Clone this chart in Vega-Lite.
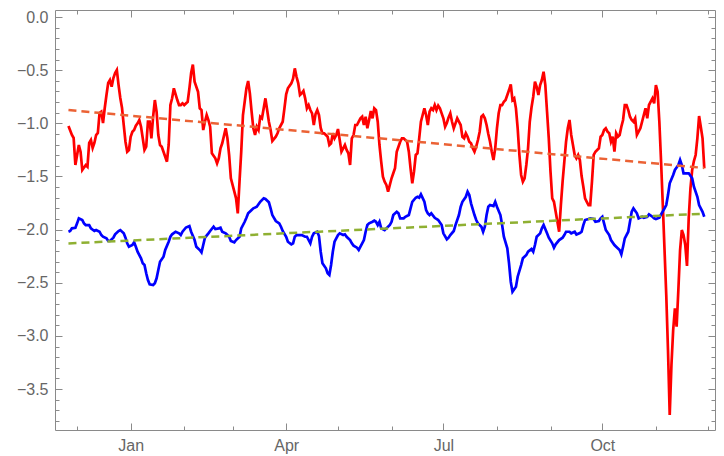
{
  "$schema": "https://vega.github.io/schema/vega-lite/v6.json",
  "width": 660,
  "height": 420,
  "autosize": {"type": "none"},
  "padding": {"left": 55, "top": 10, "right": 9, "bottom": 26},
  "background": "white",
  "config": {
    "view": {"stroke": "#8a8a8a", "strokeWidth": 1},
    "axis": {"grid": false, "domain": false, "title": null, "tickColor": "#8a8a8a", "tickWidth": 1, "labelFont": "Liberation Sans", "labelFontSize": 16, "labelColor": "#666666"}
  },
  "datasets": {
    "red": [
      {"date":"2018-11-26","value":-1.025},{"date":"2018-11-28","value":-1.110},{"date":"2018-11-29","value":-1.138},{"date":"2018-11-30","value":-1.392},
      {"date":"2018-12-02","value":-1.204},{"date":"2018-12-03","value":-1.267},{"date":"2018-12-04","value":-1.439},{"date":"2018-12-06","value":-1.392},
      {"date":"2018-12-07","value":-1.408},{"date":"2018-12-08","value":-1.185},{"date":"2018-12-09","value":-1.157},{"date":"2018-12-10","value":-1.232},
      {"date":"2018-12-11","value":-1.185},{"date":"2018-12-12","value":-1.110},{"date":"2018-12-13","value":-1.091},{"date":"2018-12-14","value":-0.903},
      {"date":"2018-12-15","value":-0.891},{"date":"2018-12-16","value":-0.997},{"date":"2018-12-17","value":-0.856},{"date":"2018-12-18","value":-0.734},
      {"date":"2018-12-19","value":-0.621},{"date":"2018-12-20","value":-0.593},{"date":"2018-12-21","value":-0.656},{"date":"2018-12-22","value":-0.574},
      {"date":"2018-12-23","value":-0.527},{"date":"2018-12-24","value":-0.499},{"date":"2018-12-25","value":-0.640},{"date":"2018-12-26","value":-0.762},
      {"date":"2018-12-27","value":-0.856},{"date":"2018-12-28","value":-1.016},{"date":"2018-12-29","value":-1.173},{"date":"2018-12-30","value":-1.267},
      {"date":"2018-12-31","value":-1.251},{"date":"2019-01-01","value":-1.126},{"date":"2019-01-02","value":-1.079},{"date":"2019-01-03","value":-1.063},
      {"date":"2019-01-04","value":-1.023},{"date":"2019-01-05","value":-1.000},{"date":"2019-01-06","value":-0.969},{"date":"2019-01-07","value":-1.032},
      {"date":"2019-01-08","value":-1.141},{"date":"2019-01-09","value":-1.251},{"date":"2019-01-10","value":-1.220},{"date":"2019-01-11","value":-0.985},
      {"date":"2019-01-12","value":-0.985},{"date":"2019-01-13","value":-1.141},{"date":"2019-01-14","value":-0.938},{"date":"2019-01-15","value":-0.781},
      {"date":"2019-01-16","value":-0.891},{"date":"2019-01-17","value":-1.110},{"date":"2019-01-18","value":-1.204},{"date":"2019-01-19","value":-1.220},
      {"date":"2019-01-20","value":-1.267},{"date":"2019-01-22","value":-1.361},{"date":"2019-01-23","value":-1.204},{"date":"2019-01-24","value":-0.828},
      {"date":"2019-01-25","value":-0.765},{"date":"2019-01-26","value":-0.671},{"date":"2019-01-28","value":-0.781},{"date":"2019-01-29","value":-0.828},
      {"date":"2019-01-30","value":-0.828},{"date":"2019-01-31","value":-0.812},{"date":"2019-02-01","value":-0.828},{"date":"2019-02-03","value":-0.797},
      {"date":"2019-02-04","value":-0.671},{"date":"2019-02-05","value":-0.527},{"date":"2019-02-06","value":-0.447},{"date":"2019-02-07","value":-0.609},
      {"date":"2019-02-09","value":-0.703},{"date":"2019-02-10","value":-0.859},{"date":"2019-02-11","value":-0.875},{"date":"2019-02-12","value":-1.063},
      {"date":"2019-02-13","value":-0.985},{"date":"2019-02-14","value":-0.922},{"date":"2019-02-15","value":-0.969},{"date":"2019-02-16","value":-1.032},
      {"date":"2019-02-17","value":-1.282},{"date":"2019-02-19","value":-1.329},{"date":"2019-02-20","value":-1.376},{"date":"2019-02-21","value":-1.329},
      {"date":"2019-02-22","value":-1.235},{"date":"2019-02-23","value":-1.188},{"date":"2019-02-25","value":-1.047},{"date":"2019-02-26","value":-1.141},
      {"date":"2019-02-27","value":-1.298},{"date":"2019-02-28","value":-1.517},{"date":"2019-03-02","value":-1.643},{"date":"2019-03-03","value":-1.706},
      {"date":"2019-03-04","value":-1.847},{"date":"2019-03-05","value":-1.549},{"date":"2019-03-06","value":-1.267},{"date":"2019-03-07","value":-0.922},
      {"date":"2019-03-08","value":-0.797},{"date":"2019-03-09","value":-0.671},{"date":"2019-03-10","value":-0.602},{"date":"2019-03-11","value":-0.718},
      {"date":"2019-03-12","value":-0.891},{"date":"2019-03-13","value":-1.047},{"date":"2019-03-14","value":-1.110},{"date":"2019-03-15","value":-1.032},
      {"date":"2019-03-16","value":-1.063},{"date":"2019-03-17","value":-0.938},{"date":"2019-03-18","value":-0.953},{"date":"2019-03-20","value":-0.765},
      {"date":"2019-03-21","value":-0.875},{"date":"2019-03-22","value":-0.985},{"date":"2019-03-23","value":-1.063},{"date":"2019-03-24","value":-1.167},
      {"date":"2019-03-26","value":-1.126},{"date":"2019-03-27","value":-1.094},{"date":"2019-03-28","value":-1.047},{"date":"2019-03-30","value":-0.985},
      {"date":"2019-03-31","value":-0.859},{"date":"2019-04-01","value":-0.727},{"date":"2019-04-02","value":-0.671},{"date":"2019-04-04","value":-0.624},
      {"date":"2019-04-05","value":-0.580},{"date":"2019-04-06","value":-0.483},{"date":"2019-04-07","value":-0.562},{"date":"2019-04-08","value":-0.624},
      {"date":"2019-04-09","value":-0.734},{"date":"2019-04-10","value":-0.718},{"date":"2019-04-11","value":-0.696},{"date":"2019-04-12","value":-0.765},
      {"date":"2019-04-13","value":-0.859},{"date":"2019-04-14","value":-0.828},{"date":"2019-04-15","value":-0.875},{"date":"2019-04-16","value":-0.906},
      {"date":"2019-04-17","value":-1.016},{"date":"2019-04-18","value":-0.913},{"date":"2019-04-19","value":-0.875},{"date":"2019-04-20","value":-0.922},
      {"date":"2019-04-21","value":-1.044},{"date":"2019-04-22","value":-1.094},{"date":"2019-04-23","value":-1.094},{"date":"2019-04-24","value":-1.110},
      {"date":"2019-04-25","value":-1.126},{"date":"2019-04-26","value":-1.204},{"date":"2019-04-27","value":-1.188},{"date":"2019-04-28","value":-1.094},
      {"date":"2019-04-29","value":-1.141},{"date":"2019-04-30","value":-1.110},{"date":"2019-05-01","value":-1.054},{"date":"2019-05-02","value":-1.157},
      {"date":"2019-05-03","value":-1.267},{"date":"2019-05-04","value":-1.235},{"date":"2019-05-05","value":-1.204},{"date":"2019-05-06","value":-1.251},
      {"date":"2019-05-07","value":-1.282},{"date":"2019-05-08","value":-1.392},{"date":"2019-05-09","value":-1.141},{"date":"2019-05-10","value":-1.110},
      {"date":"2019-05-11","value":-1.016},{"date":"2019-05-12","value":-1.016},{"date":"2019-05-13","value":-0.985},{"date":"2019-05-14","value":-0.953},
      {"date":"2019-05-15","value":-0.938},{"date":"2019-05-16","value":-1.016},{"date":"2019-05-17","value":-0.938},{"date":"2019-05-18","value":-1.047},
      {"date":"2019-05-19","value":-0.969},{"date":"2019-05-20","value":-0.884},{"date":"2019-05-21","value":-0.953},{"date":"2019-05-22","value":-0.859},
      {"date":"2019-05-23","value":-0.875},{"date":"2019-05-24","value":-0.985},{"date":"2019-05-25","value":-1.204},{"date":"2019-05-26","value":-1.361},
      {"date":"2019-05-27","value":-1.502},{"date":"2019-05-28","value":-1.549},{"date":"2019-05-29","value":-1.580},{"date":"2019-05-30","value":-1.643},
      {"date":"2019-05-31","value":-1.580},{"date":"2019-06-01","value":-1.517},{"date":"2019-06-02","value":-1.470},{"date":"2019-06-03","value":-1.423},
      {"date":"2019-06-04","value":-1.267},{"date":"2019-06-05","value":-1.220},{"date":"2019-06-06","value":-1.173},{"date":"2019-06-07","value":-1.141},
      {"date":"2019-06-08","value":-1.141},{"date":"2019-06-09","value":-1.157},{"date":"2019-06-10","value":-1.173},{"date":"2019-06-11","value":-1.267},
      {"date":"2019-06-12","value":-1.423},{"date":"2019-06-13","value":-1.564},{"date":"2019-06-14","value":-1.455},{"date":"2019-06-15","value":-1.298},
      {"date":"2019-06-16","value":-1.282},{"date":"2019-06-17","value":-1.141},{"date":"2019-06-18","value":-0.985},{"date":"2019-06-19","value":-0.922},
      {"date":"2019-06-20","value":-0.859},{"date":"2019-06-21","value":-0.922},{"date":"2019-06-22","value":-1.016},{"date":"2019-06-23","value":-0.891},
      {"date":"2019-06-24","value":-0.859},{"date":"2019-06-25","value":-0.875},{"date":"2019-06-26","value":-0.828},{"date":"2019-06-27","value":-0.875},
      {"date":"2019-06-28","value":-0.834},{"date":"2019-06-29","value":-0.859},{"date":"2019-06-30","value":-0.906},{"date":"2019-07-01","value":-0.953},
      {"date":"2019-07-02","value":-1.032},{"date":"2019-07-03","value":-0.997},{"date":"2019-07-04","value":-0.945},{"date":"2019-07-05","value":-0.906},
      {"date":"2019-07-06","value":-0.985},{"date":"2019-07-07","value":-1.047},{"date":"2019-07-08","value":-1.000},{"date":"2019-07-09","value":-0.953},
      {"date":"2019-07-10","value":-0.985},{"date":"2019-07-11","value":-1.016},{"date":"2019-07-12","value":-1.126},{"date":"2019-07-13","value":-1.141},
      {"date":"2019-07-14","value":-1.094},{"date":"2019-07-15","value":-1.126},{"date":"2019-07-16","value":-1.173},{"date":"2019-07-17","value":-1.188},
      {"date":"2019-07-18","value":-1.235},{"date":"2019-07-19","value":-1.267},{"date":"2019-07-20","value":-1.220},{"date":"2019-07-21","value":-1.157},
      {"date":"2019-07-22","value":-1.079},{"date":"2019-07-23","value":-0.938},{"date":"2019-07-24","value":-0.922},{"date":"2019-07-25","value":-0.953},
      {"date":"2019-07-26","value":-1.016},{"date":"2019-07-27","value":-1.101},{"date":"2019-07-28","value":-1.173},{"date":"2019-07-29","value":-1.267},
      {"date":"2019-07-30","value":-1.345},{"date":"2019-07-31","value":-1.235},{"date":"2019-08-01","value":-1.047},{"date":"2019-08-02","value":-0.906},
      {"date":"2019-08-03","value":-0.828},{"date":"2019-08-04","value":-0.828},{"date":"2019-08-05","value":-0.797},{"date":"2019-08-06","value":-0.781},
      {"date":"2019-08-07","value":-0.734},{"date":"2019-08-08","value":-0.687},{"date":"2019-08-09","value":-0.633},{"date":"2019-08-10","value":-0.781},
      {"date":"2019-08-11","value":-0.765},{"date":"2019-08-12","value":-0.859},{"date":"2019-08-13","value":-1.047},{"date":"2019-08-14","value":-1.298},
      {"date":"2019-08-15","value":-1.486},{"date":"2019-08-16","value":-1.549},{"date":"2019-08-17","value":-1.517},{"date":"2019-08-18","value":-1.392},
      {"date":"2019-08-19","value":-1.235},{"date":"2019-08-20","value":-0.985},{"date":"2019-08-21","value":-0.851},{"date":"2019-08-22","value":-0.750},
      {"date":"2019-08-23","value":-0.609},{"date":"2019-08-24","value":-0.656},{"date":"2019-08-25","value":-0.734},{"date":"2019-08-26","value":-0.640},
      {"date":"2019-08-27","value":-0.593},{"date":"2019-08-28","value":-0.515},{"date":"2019-08-29","value":-0.640},{"date":"2019-08-30","value":-0.891},
      {"date":"2019-08-31","value":-1.141},{"date":"2019-09-01","value":-1.455},{"date":"2019-09-02","value":-1.706},{"date":"2019-09-03","value":-1.738},
      {"date":"2019-09-04","value":-1.832},{"date":"2019-09-05","value":-1.926},{"date":"2019-09-06","value":-2.020},{"date":"2019-09-07","value":-1.769},
      {"date":"2019-09-08","value":-1.549},{"date":"2019-09-09","value":-1.361},{"date":"2019-09-10","value":-1.173},{"date":"2019-09-11","value":-1.047},
      {"date":"2019-09-12","value":-0.969},{"date":"2019-09-13","value":-1.110},{"date":"2019-09-14","value":-1.204},{"date":"2019-09-15","value":-1.298},
      {"date":"2019-09-16","value":-1.329},{"date":"2019-09-17","value":-1.298},{"date":"2019-09-18","value":-1.345},{"date":"2019-09-19","value":-1.496},
      {"date":"2019-09-20","value":-1.596},{"date":"2019-09-21","value":-1.706},{"date":"2019-09-22","value":-1.738},{"date":"2019-09-23","value":-1.769},
      {"date":"2019-09-24","value":-1.769},{"date":"2019-09-25","value":-1.549},{"date":"2019-09-26","value":-1.298},{"date":"2019-09-27","value":-1.267},
      {"date":"2019-09-28","value":-1.251},{"date":"2019-09-29","value":-1.235},{"date":"2019-09-30","value":-1.126},{"date":"2019-10-01","value":-1.110},
      {"date":"2019-10-02","value":-1.063},{"date":"2019-10-03","value":-1.047},{"date":"2019-10-04","value":-1.079},{"date":"2019-10-05","value":-1.094},
      {"date":"2019-10-06","value":-1.173},{"date":"2019-10-07","value":-1.126},{"date":"2019-10-08","value":-1.267},{"date":"2019-10-09","value":-1.094},
      {"date":"2019-10-10","value":-1.126},{"date":"2019-10-11","value":-1.110},{"date":"2019-10-12","value":-1.032},{"date":"2019-10-13","value":-0.969},
      {"date":"2019-10-14","value":-0.828},{"date":"2019-10-15","value":-0.828},{"date":"2019-10-16","value":-0.875},{"date":"2019-10-17","value":-0.938},
      {"date":"2019-10-18","value":-0.969},{"date":"2019-10-19","value":-0.985},{"date":"2019-10-20","value":-0.953},{"date":"2019-10-21","value":-1.110},
      {"date":"2019-10-22","value":-1.079},{"date":"2019-10-23","value":-1.047},{"date":"2019-10-24","value":-0.985},{"date":"2019-10-25","value":-0.922},
      {"date":"2019-10-26","value":-0.859},{"date":"2019-10-27","value":-0.953},{"date":"2019-10-28","value":-0.828},{"date":"2019-10-29","value":-0.797},
      {"date":"2019-10-30","value":-0.765},{"date":"2019-10-31","value":-0.812},{"date":"2019-11-01","value":-0.640},{"date":"2019-11-02","value":-0.703},
      {"date":"2019-11-03","value":-0.985},{"date":"2019-11-04","value":-1.361},{"date":"2019-11-05","value":-1.769},{"date":"2019-11-06","value":-2.192},
      {"date":"2019-11-07","value":-2.615},{"date":"2019-11-08","value":-3.133},{"date":"2019-11-09","value":-3.744},{"date":"2019-11-10","value":-3.274},
      {"date":"2019-11-11","value":-2.944},{"date":"2019-11-12","value":-2.740},{"date":"2019-11-13","value":-2.913},{"date":"2019-11-14","value":-2.568},
      {"date":"2019-11-15","value":-2.192},{"date":"2019-11-16","value":-2.004},{"date":"2019-11-17","value":-2.051},{"date":"2019-11-18","value":-2.145},
      {"date":"2019-11-19","value":-2.342},{"date":"2019-11-20","value":-1.891},{"date":"2019-11-21","value":-1.611},{"date":"2019-11-22","value":-1.439},
      {"date":"2019-11-23","value":-1.355},{"date":"2019-11-24","value":-1.298},{"date":"2019-11-25","value":-1.141},{"date":"2019-11-26","value":-0.931},
      {"date":"2019-11-27","value":-1.035},{"date":"2019-11-28","value":-1.141},{"date":"2019-11-29","value":-1.423}
    ],
    "blue": [
      {"date":"2018-11-26","value":-2.020},{"date":"2018-11-27","value":-2.013},{"date":"2018-11-28","value":-1.988},{"date":"2018-11-30","value":-1.982},
      {"date":"2018-12-01","value":-1.941},{"date":"2018-12-02","value":-1.894},{"date":"2018-12-04","value":-1.910},{"date":"2018-12-05","value":-1.941},
      {"date":"2018-12-06","value":-1.957},{"date":"2018-12-08","value":-1.957},{"date":"2018-12-09","value":-1.988},{"date":"2018-12-11","value":-2.013},
      {"date":"2018-12-12","value":-2.004},{"date":"2018-12-14","value":-2.020},{"date":"2018-12-15","value":-2.051},{"date":"2018-12-16","value":-2.067},
      {"date":"2018-12-18","value":-2.082},{"date":"2018-12-19","value":-2.107},{"date":"2018-12-20","value":-2.107},{"date":"2018-12-22","value":-2.076},
      {"date":"2018-12-23","value":-2.044},{"date":"2018-12-25","value":-2.013},{"date":"2018-12-26","value":-2.004},{"date":"2018-12-28","value":-2.035},
      {"date":"2018-12-29","value":-2.076},{"date":"2018-12-30","value":-2.129},{"date":"2018-12-31","value":-2.161},{"date":"2019-01-02","value":-2.145},
      {"date":"2019-01-03","value":-2.119},{"date":"2019-01-04","value":-2.161},{"date":"2019-01-05","value":-2.208},{"date":"2019-01-07","value":-2.270},
      {"date":"2019-01-08","value":-2.317},{"date":"2019-01-09","value":-2.333},{"date":"2019-01-10","value":-2.411},{"date":"2019-01-11","value":-2.474},
      {"date":"2019-01-12","value":-2.515},{"date":"2019-01-14","value":-2.521},{"date":"2019-01-15","value":-2.505},{"date":"2019-01-16","value":-2.458},
      {"date":"2019-01-17","value":-2.380},{"date":"2019-01-18","value":-2.302},{"date":"2019-01-20","value":-2.255},{"date":"2019-01-21","value":-2.192},
      {"date":"2019-01-23","value":-2.114},{"date":"2019-01-24","value":-2.067},{"date":"2019-01-25","value":-2.044},{"date":"2019-01-27","value":-2.020},
      {"date":"2019-01-29","value":-2.035},{"date":"2019-01-30","value":-2.051},{"date":"2019-01-31","value":-2.020},{"date":"2019-02-02","value":-1.980},
      {"date":"2019-02-04","value":-1.966},{"date":"2019-02-05","value":-2.020},{"date":"2019-02-07","value":-2.098},{"date":"2019-02-08","value":-2.161},
      {"date":"2019-02-10","value":-2.192},{"date":"2019-02-11","value":-2.214},{"date":"2019-02-12","value":-2.145},{"date":"2019-02-13","value":-2.076},
      {"date":"2019-02-15","value":-2.035},{"date":"2019-02-16","value":-2.013},{"date":"2019-02-18","value":-1.973},{"date":"2019-02-19","value":-1.994},
      {"date":"2019-02-21","value":-1.988},{"date":"2019-02-22","value":-1.982},{"date":"2019-02-23","value":-2.020},{"date":"2019-02-25","value":-2.035},
      {"date":"2019-02-26","value":-2.051},{"date":"2019-02-27","value":-2.067},{"date":"2019-02-28","value":-2.107},{"date":"2019-03-02","value":-2.119},
      {"date":"2019-03-03","value":-2.098},{"date":"2019-03-05","value":-2.067},{"date":"2019-03-06","value":-1.988},{"date":"2019-03-08","value":-1.926},
      {"date":"2019-03-09","value":-1.888},{"date":"2019-03-10","value":-1.847},{"date":"2019-03-12","value":-1.816},{"date":"2019-03-13","value":-1.800},
      {"date":"2019-03-15","value":-1.785},{"date":"2019-03-16","value":-1.762},{"date":"2019-03-17","value":-1.738},{"date":"2019-03-19","value":-1.706},
      {"date":"2019-03-20","value":-1.712},{"date":"2019-03-22","value":-1.743},{"date":"2019-03-23","value":-1.800},{"date":"2019-03-24","value":-1.863},
      {"date":"2019-03-26","value":-1.919},{"date":"2019-03-28","value":-1.941},{"date":"2019-03-29","value":-1.973},{"date":"2019-03-30","value":-2.013},
      {"date":"2019-04-01","value":-2.067},{"date":"2019-04-02","value":-2.114},{"date":"2019-04-04","value":-2.138},{"date":"2019-04-05","value":-2.129},
      {"date":"2019-04-06","value":-2.067},{"date":"2019-04-07","value":-2.051},{"date":"2019-04-09","value":-2.051},{"date":"2019-04-10","value":-2.051},
      {"date":"2019-04-12","value":-2.067},{"date":"2019-04-13","value":-2.067},{"date":"2019-04-15","value":-2.129},{"date":"2019-04-16","value":-2.067},
      {"date":"2019-04-17","value":-2.035},{"date":"2019-04-19","value":-2.020},{"date":"2019-04-20","value":-2.060},{"date":"2019-04-21","value":-2.208},
      {"date":"2019-04-22","value":-2.317},{"date":"2019-04-24","value":-2.364},{"date":"2019-04-25","value":-2.411},{"date":"2019-04-26","value":-2.427},
      {"date":"2019-04-27","value":-2.333},{"date":"2019-04-28","value":-2.208},{"date":"2019-04-29","value":-2.114},{"date":"2019-05-01","value":-2.051},
      {"date":"2019-05-02","value":-2.035},{"date":"2019-05-04","value":-2.051},{"date":"2019-05-05","value":-2.044},{"date":"2019-05-06","value":-2.067},
      {"date":"2019-05-08","value":-2.098},{"date":"2019-05-09","value":-2.129},{"date":"2019-05-10","value":-2.151},{"date":"2019-05-12","value":-2.170},
      {"date":"2019-05-13","value":-2.192},{"date":"2019-05-14","value":-2.161},{"date":"2019-05-16","value":-2.098},{"date":"2019-05-17","value":-2.020},
      {"date":"2019-05-18","value":-1.957},{"date":"2019-05-19","value":-1.941},{"date":"2019-05-21","value":-1.926},{"date":"2019-05-22","value":-1.916},
      {"date":"2019-05-23","value":-1.926},{"date":"2019-05-24","value":-1.957},{"date":"2019-05-25","value":-1.926},{"date":"2019-05-26","value":-1.988},
      {"date":"2019-05-28","value":-2.004},{"date":"2019-05-29","value":-1.988},{"date":"2019-05-31","value":-1.957},{"date":"2019-06-01","value":-1.926},
      {"date":"2019-06-02","value":-1.863},{"date":"2019-06-04","value":-1.832},{"date":"2019-06-05","value":-1.847},{"date":"2019-06-06","value":-1.894},
      {"date":"2019-06-08","value":-1.894},{"date":"2019-06-09","value":-1.879},{"date":"2019-06-11","value":-1.863},{"date":"2019-06-12","value":-1.800},
      {"date":"2019-06-13","value":-1.738},{"date":"2019-06-15","value":-1.700},{"date":"2019-06-16","value":-1.691},{"date":"2019-06-17","value":-1.700},
      {"date":"2019-06-18","value":-1.668},{"date":"2019-06-20","value":-1.738},{"date":"2019-06-21","value":-1.816},{"date":"2019-06-22","value":-1.847},
      {"date":"2019-06-23","value":-1.863},{"date":"2019-06-24","value":-1.847},{"date":"2019-06-26","value":-1.888},{"date":"2019-06-27","value":-1.900},
      {"date":"2019-06-28","value":-1.910},{"date":"2019-06-30","value":-1.957},{"date":"2019-07-01","value":-2.035},{"date":"2019-07-03","value":-2.091},
      {"date":"2019-07-04","value":-2.076},{"date":"2019-07-05","value":-2.051},{"date":"2019-07-07","value":-2.013},{"date":"2019-07-08","value":-1.957},
      {"date":"2019-07-10","value":-1.863},{"date":"2019-07-11","value":-1.785},{"date":"2019-07-12","value":-1.738},{"date":"2019-07-14","value":-1.691},
      {"date":"2019-07-15","value":-1.643},{"date":"2019-07-16","value":-1.675},{"date":"2019-07-17","value":-1.753},{"date":"2019-07-19","value":-1.863},
      {"date":"2019-07-20","value":-1.910},{"date":"2019-07-21","value":-1.941},{"date":"2019-07-23","value":-1.973},{"date":"2019-07-24","value":-2.020},
      {"date":"2019-07-25","value":-1.973},{"date":"2019-07-26","value":-1.863},{"date":"2019-07-27","value":-1.785},{"date":"2019-07-28","value":-1.769},
      {"date":"2019-07-30","value":-1.778},{"date":"2019-07-31","value":-1.738},{"date":"2019-08-01","value":-1.785},{"date":"2019-08-03","value":-1.863},
      {"date":"2019-08-04","value":-1.957},{"date":"2019-08-05","value":-2.067},{"date":"2019-08-07","value":-2.176},{"date":"2019-08-08","value":-2.317},
      {"date":"2019-08-09","value":-2.490},{"date":"2019-08-10","value":-2.584},{"date":"2019-08-12","value":-2.537},{"date":"2019-08-13","value":-2.443},
      {"date":"2019-08-15","value":-2.333},{"date":"2019-08-16","value":-2.270},{"date":"2019-08-18","value":-2.239},{"date":"2019-08-19","value":-2.208},
      {"date":"2019-08-21","value":-2.183},{"date":"2019-08-22","value":-2.208},{"date":"2019-08-23","value":-2.145},{"date":"2019-08-24","value":-2.067},
      {"date":"2019-08-26","value":-2.035},{"date":"2019-08-27","value":-1.988},{"date":"2019-08-28","value":-1.957},{"date":"2019-08-30","value":-2.035},
      {"date":"2019-08-31","value":-2.076},{"date":"2019-09-02","value":-2.129},{"date":"2019-09-03","value":-2.170},{"date":"2019-09-04","value":-2.138},
      {"date":"2019-09-06","value":-2.098},{"date":"2019-09-08","value":-2.076},{"date":"2019-09-09","value":-2.051},{"date":"2019-09-10","value":-2.020},
      {"date":"2019-09-12","value":-2.020},{"date":"2019-09-13","value":-2.035},{"date":"2019-09-15","value":-2.020},{"date":"2019-09-16","value":-2.046},
      {"date":"2019-09-18","value":-2.032},{"date":"2019-09-19","value":-2.020},{"date":"2019-09-20","value":-1.957},{"date":"2019-09-21","value":-1.910},
      {"date":"2019-09-23","value":-1.900},{"date":"2019-09-24","value":-1.894},{"date":"2019-09-26","value":-1.900},{"date":"2019-09-27","value":-1.926},
      {"date":"2019-09-29","value":-1.919},{"date":"2019-09-30","value":-1.894},{"date":"2019-10-01","value":-1.879},{"date":"2019-10-02","value":-1.941},
      {"date":"2019-10-03","value":-2.004},{"date":"2019-10-05","value":-2.051},{"date":"2019-10-06","value":-2.098},{"date":"2019-10-08","value":-2.145},
      {"date":"2019-10-09","value":-2.161},{"date":"2019-10-11","value":-2.192},{"date":"2019-10-12","value":-2.232},{"date":"2019-10-13","value":-2.161},
      {"date":"2019-10-14","value":-2.082},{"date":"2019-10-16","value":-2.020},{"date":"2019-10-17","value":-1.926},{"date":"2019-10-18","value":-1.832},
      {"date":"2019-10-19","value":-1.800},{"date":"2019-10-21","value":-1.847},{"date":"2019-10-22","value":-1.894},{"date":"2019-10-24","value":-1.879},
      {"date":"2019-10-25","value":-1.888},{"date":"2019-10-27","value":-1.879},{"date":"2019-10-28","value":-1.856},{"date":"2019-10-30","value":-1.879},
      {"date":"2019-10-31","value":-1.894},{"date":"2019-11-01","value":-1.900},{"date":"2019-11-03","value":-1.888},{"date":"2019-11-04","value":-1.856},
      {"date":"2019-11-06","value":-1.800},{"date":"2019-11-07","value":-1.769},{"date":"2019-11-08","value":-1.675},{"date":"2019-11-09","value":-1.564},
      {"date":"2019-11-11","value":-1.486},{"date":"2019-11-12","value":-1.439},{"date":"2019-11-14","value":-1.392},{"date":"2019-11-15","value":-1.345},
      {"date":"2019-11-16","value":-1.392},{"date":"2019-11-17","value":-1.470},{"date":"2019-11-19","value":-1.470},{"date":"2019-11-20","value":-1.470},
      {"date":"2019-11-22","value":-1.517},{"date":"2019-11-23","value":-1.596},{"date":"2019-11-25","value":-1.691},{"date":"2019-11-26","value":-1.769},
      {"date":"2019-11-28","value":-1.832},{"date":"2019-11-29","value":-1.879}
    ],
    "trendRed": [{"date":"2018-11-26","value":-0.875},{"date":"2019-11-29","value":-1.42}],
    "trendBlue": [{"date":"2018-11-26","value":-2.13},{"date":"2019-11-29","value":-1.85}]
  },
  "layer": [
    {
      "data": {"name": "red"},
      "mark": {"type": "line", "color": "#ff0000", "strokeWidth": 2.7},
      "encoding": {
        "x": {"field": "date", "type": "temporal",
              "scale": {"type": "utc", "domain": [{"year": 2018, "month": 11, "date": 18, "hours": 5, "utc": true}, {"year": 2019, "month": 12, "date": 5, "hours": 5, "utc": true}]},
              "axis": {"orient": "bottom", "ticks": false, "tickSize": 0, "labelPadding": 7, "format": "%b", "labelFlush": false, "labelOverlap": false,
                       "values": [{"year": 2019, "month": 1, "date": 1, "utc": true}, {"year": 2019, "month": 4, "date": 1, "utc": true}, {"year": 2019, "month": 7, "date": 1, "utc": true}, {"year": 2019, "month": 10, "date": 1, "utc": true}]}},
        "y": {"field": "value", "type": "quantitative",
              "scale": {"domain": [-3.885, 0.066], "nice": false, "zero": false},
              "axis": {"orient": "left", "ticks": false, "tickSize": 0, "labelPadding": 7, "labelOverlap": false,
                       "labelExpr": "replace(format(datum.value, '.1f'), '-', '−')",
                       "values": [0, -0.5, -1, -1.5, -2, -2.5, -3, -3.5]}}
      }
    },
    {
      "data": {"name": "blue"},
      "mark": {"type": "line", "color": "#0000ff", "strokeWidth": 2.7},
      "encoding": {
        "x": {"field": "date", "type": "temporal",
              "axis": {"orient": "bottom", "labels": false, "tickSize": -7,
                       "values": [{"year": 2019, "month": 1, "date": 1, "utc": true}, {"year": 2019, "month": 4, "date": 1, "utc": true}, {"year": 2019, "month": 7, "date": 1, "utc": true}, {"year": 2019, "month": 10, "date": 1, "utc": true}]}},
        "y": {"field": "value", "type": "quantitative",
              "axis": {"orient": "left", "labels": false, "tickSize": -7, "values": [0, -0.5, -1, -1.5, -2, -2.5, -3, -3.5]}}
      }
    },
    {
      "data": {"name": "trendRed"},
      "mark": {"type": "line", "color": "#eb6235", "strokeWidth": 2.5, "strokeDash": [8, 5]},
      "encoding": {
        "x": {"field": "date", "type": "temporal",
              "axis": {"orient": "bottom", "labels": false, "tickSize": -4,
                       "values": [{"year": 2018, "month": 12, "date": 1, "utc": true}, {"year": 2019, "month": 2, "date": 1, "utc": true}, {"year": 2019, "month": 3, "date": 1, "utc": true}, {"year": 2019, "month": 5, "date": 1, "utc": true}, {"year": 2019, "month": 6, "date": 1, "utc": true}, {"year": 2019, "month": 8, "date": 1, "utc": true}, {"year": 2019, "month": 9, "date": 1, "utc": true}, {"year": 2019, "month": 11, "date": 1, "utc": true}, {"year": 2019, "month": 12, "date": 1, "utc": true}]}},
        "y": {"field": "value", "type": "quantitative",
              "axis": {"orient": "left", "labels": false, "tickSize": -4,
                       "values": [-0.1, -0.2, -0.3, -0.4, -0.6, -0.7, -0.8, -0.9, -1.1, -1.2, -1.3, -1.4, -1.6, -1.7, -1.8, -1.9, -2.1, -2.2, -2.3, -2.4, -2.6, -2.7, -2.8, -2.9, -3.1, -3.2, -3.3, -3.4, -3.6, -3.7, -3.8]}}
      }
    },
    {
      "data": {"name": "trendBlue"},
      "mark": {"type": "line", "color": "#8fb032", "strokeWidth": 2.5, "strokeDash": [8, 5]},
      "encoding": {
        "x": {"field": "date", "type": "temporal",
              "axis": {"orient": "top", "labels": false, "tickSize": -7,
                       "values": [{"year": 2019, "month": 1, "date": 1, "utc": true}, {"year": 2019, "month": 4, "date": 1, "utc": true}, {"year": 2019, "month": 7, "date": 1, "utc": true}, {"year": 2019, "month": 10, "date": 1, "utc": true}]}},
        "y": {"field": "value", "type": "quantitative",
              "axis": {"orient": "right", "labels": false, "tickSize": -7, "values": [0, -0.5, -1, -1.5, -2, -2.5, -3, -3.5]}}
      }
    },
    {
      "data": {"name": "trendBlue"},
      "mark": {"type": "line", "strokeOpacity": 0},
      "encoding": {
        "x": {"field": "date", "type": "temporal",
              "axis": {"orient": "top", "labels": false, "tickSize": -4,
                       "values": [{"year": 2018, "month": 12, "date": 1, "utc": true}, {"year": 2019, "month": 2, "date": 1, "utc": true}, {"year": 2019, "month": 3, "date": 1, "utc": true}, {"year": 2019, "month": 5, "date": 1, "utc": true}, {"year": 2019, "month": 6, "date": 1, "utc": true}, {"year": 2019, "month": 8, "date": 1, "utc": true}, {"year": 2019, "month": 9, "date": 1, "utc": true}, {"year": 2019, "month": 11, "date": 1, "utc": true}, {"year": 2019, "month": 12, "date": 1, "utc": true}]}},
        "y": {"field": "value", "type": "quantitative",
              "axis": {"orient": "right", "labels": false, "tickSize": -4,
                       "values": [-0.1, -0.2, -0.3, -0.4, -0.6, -0.7, -0.8, -0.9, -1.1, -1.2, -1.3, -1.4, -1.6, -1.7, -1.8, -1.9, -2.1, -2.2, -2.3, -2.4, -2.6, -2.7, -2.8, -2.9, -3.1, -3.2, -3.3, -3.4, -3.6, -3.7, -3.8]}}
      }
    }
  ],
  "resolve": {"axis": {"x": "independent", "y": "independent"}}
}
